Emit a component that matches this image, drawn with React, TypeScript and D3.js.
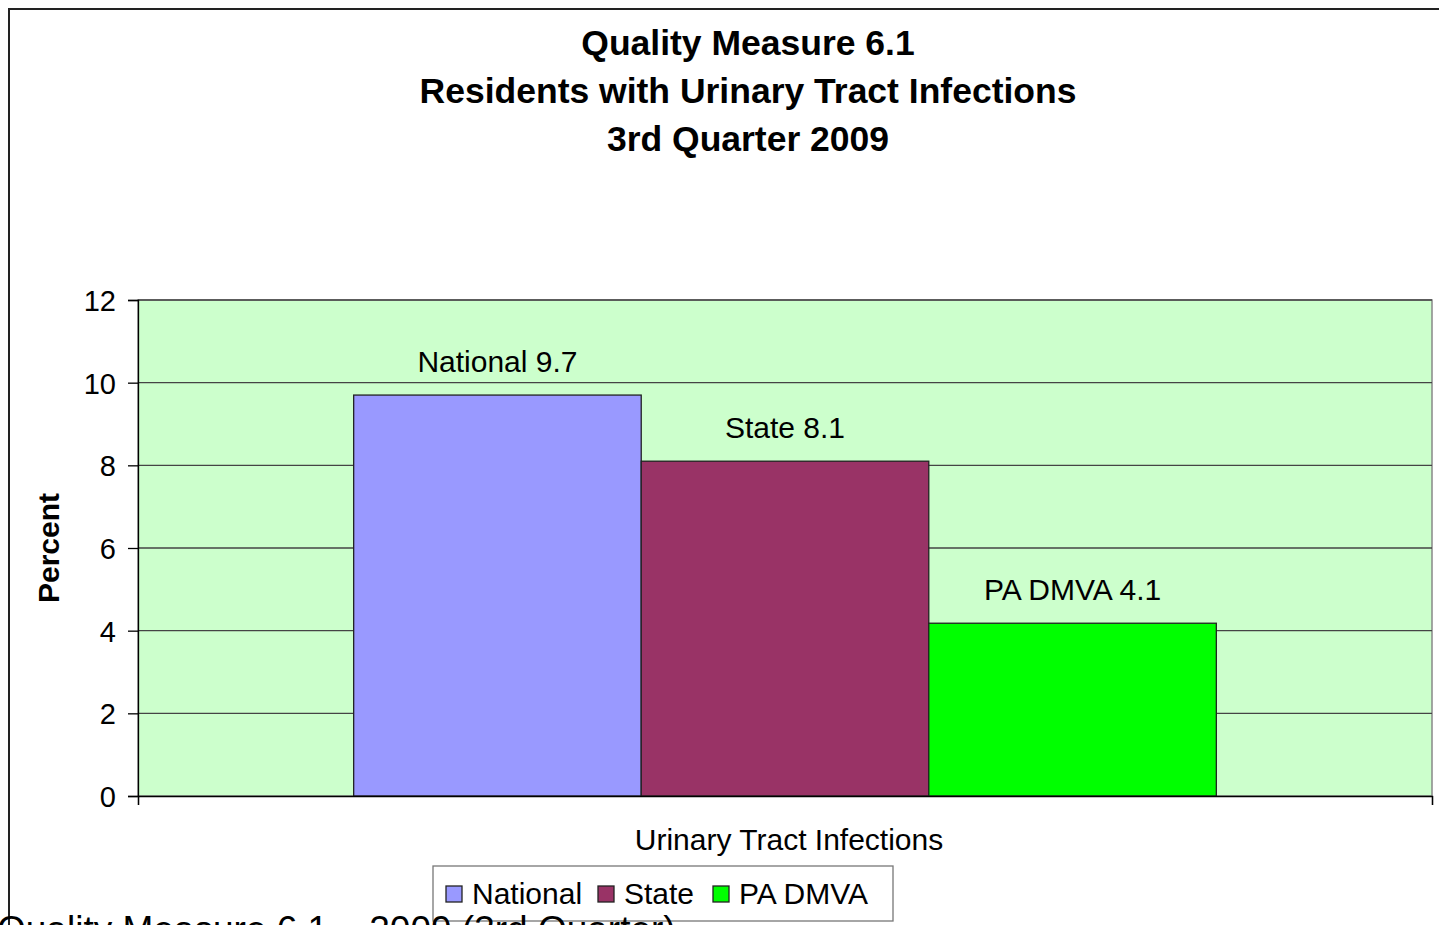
import React, {useEffect, useRef} from 'react';
import * as d3 from 'd3';

const categories = ['National', 'State', 'PA DMVA'];
const values = [9.7, 8.1, 4.18];
const barLabels = ['National 9.7', 'State 8.1', 'PA DMVA 4.1'];
const colors = ['#9999FF', '#993366', '#00FF00'];
const yTicks = [0, 2, 4, 6, 8, 10, 12];
const titleLines = ['Quality Measure 6.1', 'Residents with Urinary Tract Infections', '3rd Quarter 2009'];

const FONT = 'Arial, "Liberation Sans", sans-serif';

const App = () => {
  const svgRef = useRef<SVGSVGElement>(null);

  useEffect(() => {
    const svg = d3.select(svgRef.current);
    svg.selectAll('*').remove();

    // plot area
    const plot = {left: 138, right: 1432, top: 300, bottom: 796};

    // outer chart frame (runs off the right / bottom edge)
    svg
      .append('rect')
      .attr('x', 9)
      .attr('y', 9)
      .attr('width', 1460)
      .attr('height', 960)
      .attr('fill', '#fff')
      .attr('stroke', '#222')
      .attr('stroke-width', 2);

    // title
    svg
      .append('g')
      .selectAll('text')
      .data(titleLines)
      .enter()
      .append('text')
      .attr('x', 748)
      .attr('y', (d, i) => 55 + i * 48)
      .attr('text-anchor', 'middle')
      .style('font-family', FONT)
      .style('font-weight', 'bold')
      .style('font-size', '35.5px')
      .text(d => d);

    const y = d3.scaleLinear().domain([0, 12]).range([plot.bottom, plot.top]);

    // group band (single category), bars inside
    const outer = d3
      .scaleBand()
      .domain(['Urinary Tract Infections'])
      .range([plot.left, plot.right])
      .paddingInner(0)
      .paddingOuter(0.25);
    const x = d3
      .scaleBand()
      .domain(categories)
      .range([outer('Urinary Tract Infections')!, outer('Urinary Tract Infections')! + outer.bandwidth()])
      .padding(0);

    svg
      .append('rect')
      .attr('x', plot.left)
      .attr('y', plot.top)
      .attr('width', plot.right - plot.left)
      .attr('height', plot.bottom - plot.top)
      .attr('fill', '#CCFFCC')
      .attr('stroke', '#888')
      .attr('stroke-width', 1.5);

    // gridlines
    svg
      .append('g')
      .selectAll('line')
      .data(yTicks.filter(t => t > 0))
      .enter()
      .append('line')
      .attr('x1', plot.left)
      .attr('x2', plot.right)
      .attr('y1', d => y(d))
      .attr('y2', d => y(d))
      .attr('stroke', '#444')
      .attr('stroke-width', 1.3);

    // bars
    svg
      .selectAll('.bar')
      .data(values)
      .enter()
      .append('rect')
      .attr('class', 'bar')
      .attr('x', (d, i) => x(categories[i])!)
      .attr('width', x.bandwidth())
      .attr('y', d => y(d))
      .attr('height', d => plot.bottom - y(d))
      .attr('fill', (d, i) => colors[i])
      .attr('stroke', '#222')
      .attr('stroke-width', 1.3);

    // bar labels
    svg
      .append('g')
      .selectAll('text')
      .data(values)
      .enter()
      .append('text')
      .attr('x', (d, i) => x(categories[i])! + x.bandwidth() / 2)
      .attr('y', d => y(d) - 23)
      .attr('text-anchor', 'middle')
      .style('font-family', FONT)
      .style('font-size', '30px')
      .text((d, i) => barLabels[i]);

    // y axis
    const yAxis = svg
      .append('g')
      .attr('transform', `translate(${plot.left},0)`)
      .call(d3.axisLeft(y).tickValues(yTicks).tickSize(10).tickPadding(12));
    yAxis.select('.domain').attr('stroke', '#000').attr('stroke-width', 1.3);
    yAxis.selectAll('line').attr('stroke', '#000').attr('stroke-width', 1.3);
    yAxis
      .selectAll('text')
      .attr('dy', '0.36em')
      .style('font-family', FONT)
      .style('font-size', '29px')
      .attr('fill', '#000');

    // x axis line and end ticks
    const xAxis = svg
      .append('g')
      .attr('transform', `translate(0,${plot.bottom})`)
      .call(
        d3
          .axisBottom(d3.scaleLinear().domain([0, 1]).range([plot.left, plot.right]))
          .tickValues([0, 1])
          .tickSize(9)
          .tickFormat(() => '')
      );
    xAxis.select('.domain').attr('stroke', '#000').attr('stroke-width', 1.3);
    xAxis.selectAll('line').attr('stroke', '#000').attr('stroke-width', 1.3);

    // axis titles
    svg
      .append('text')
      .attr('x', 789)
      .attr('y', 850)
      .attr('text-anchor', 'middle')
      .style('font-family', FONT)
      .style('font-size', '30px')
      .text('Urinary Tract Infections');

    svg
      .append('text')
      .attr('transform', `translate(59,${(plot.top + plot.bottom) / 2}) rotate(-90)`)
      .attr('text-anchor', 'middle')
      .style('font-family', FONT)
      .style('font-weight', 'bold')
      .style('font-size', '30px')
      .text('Percent');

    // legend
    const legend = svg.append('g');
    legend
      .append('rect')
      .attr('x', 433)
      .attr('y', 866)
      .attr('width', 460)
      .attr('height', 55)
      .attr('fill', '#fff')
      .attr('stroke', '#777')
      .attr('stroke-width', 1.3);
    const legendX = [446, 598, 713];
    const items = legend
      .selectAll('.item')
      .data(categories)
      .enter()
      .append('g')
      .attr('class', 'item')
      .attr('transform', (d, i) => `translate(${legendX[i]},886)`);
    items
      .append('rect')
      .attr('width', 16)
      .attr('height', 16)
      .attr('fill', (d, i) => colors[i])
      .attr('stroke', '#222')
      .attr('stroke-width', 1.3);
    items
      .append('text')
      .attr('x', 26)
      .attr('y', 18)
      .style('font-family', FONT)
      .style('font-size', '30px')
      .text(d => d);

    // caption below the chart, cut off by the page edge
    svg
      .append('text')
      .attr('x', -3)
      .attr('y', 942)
      .style('font-family', FONT)
      .style('font-size', '37px')
      .text('Quality Measure 6.1 \u2013 2009 (3rd Quarter)');
  }, []);

  return (
    <svg
      ref={svgRef}
      width={1439}
      height={925}
      style={{position: 'absolute', left: 0, top: 0, overflow: 'hidden', background: '#fff'}}
    />
  );
};

export default App;
